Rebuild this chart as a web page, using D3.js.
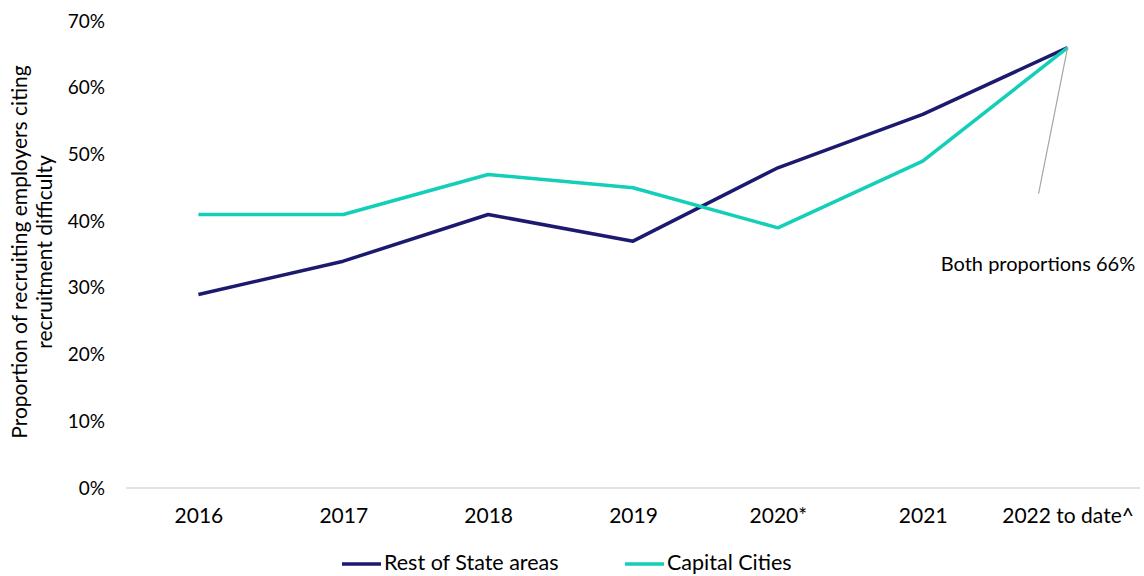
<!DOCTYPE html>
<html>
<head>
<meta charset="utf-8">
<script src="https://cdn.jsdelivr.net/npm/d3@7"></script>
<style>
  html, body { margin: 0; padding: 0; background: #fff; }
  svg { display: block; font-family: Lato, "Open Sans", sans-serif; }
</style>
</head>
<body>
<svg id="chart" width="1144" height="576"></svg>
<script>
// Survey years
const categories = ["2016", "2017", "2018", "2019", "2020*", "2021", "2022 to date^"];
// Share of recruiting employers citing recruitment difficulty (%)
const restOfState = [29, 34, 41, 37, 48, 56, 66];
const capitalCities = [41, 41, 47, 45, 39, 49, 66];
const yTicks = [0, 10, 20, 30, 40, 50, 60, 70];
const seriesNames = ["Rest of State areas", "Capital Cities"];
const annotationText = "Both proportions 66%";

const colors = ["#1c1a6f", "#14cfb8"];
const svg = d3.select("#chart");
const margin = { left: 126, right: 4, top: 21, bottom: 88 };
const W = 1144, H = 576;

const x = d3.scalePoint().domain(categories).range([margin.left, W - margin.right]).padding(0.5);
const y = d3.scaleLinear().domain([0, 70]).range([H - margin.bottom, margin.top]);

// Y tick labels
const yAxis = svg.append("g")
  .attr("transform", `translate(${margin.left},0)`)
  .call(d3.axisLeft(y).tickValues(yTicks).tickFormat(d => d + "%").tickSize(0).tickPadding(21));
yAxis.select(".domain").remove();
yAxis.selectAll("text").attr("font-size", 19).attr("fill", "#000").attr("font-family", "Lato, sans-serif");

// X axis baseline and labels
const xAxis = svg.append("g")
  .attr("transform", `translate(0,${y(0)})`)
  .call(d3.axisBottom(x).tickSize(0).tickPadding(20));
xAxis.select(".domain").attr("stroke", "#d9d9d9").attr("stroke-width", 1.5)
  .attr("d", `M${margin.left},0H${W - margin.right}`);
xAxis.selectAll("text").attr("font-size", 21).attr("fill", "#000").attr("font-family", "Lato, sans-serif");

// Y axis title
svg.append("text")
  .attr("transform", `translate(27,252) rotate(-90)`)
  .attr("text-anchor", "middle")
  .attr("font-size", 21)
  .attr("fill", "#000")
  .selectAll("tspan")
  .data(["Proportion of recruiting employers citing", "recruitment difficulty"])
  .join("tspan")
  .attr("x", 0)
  .attr("dy", (d, i) => i === 0 ? 0 : 25)
  .text(d => d);

// Series lines
const line = d3.line().x((d, i) => x(categories[i])).y(d => y(d));
[restOfState, capitalCities].forEach((vals, i) => {
  svg.append("path")
    .datum(vals)
    .attr("fill", "none")
    .attr("stroke", colors[i])
    .attr("stroke-width", 3.5)
    .attr("stroke-linejoin", "round")
    .attr("d", line);
});

// Callout for the shared final value
const last = categories[categories.length - 1];
svg.append("line")
  .attr("x1", x(last)).attr("y1", y(66))
  .attr("x2", x(last) - 29).attr("y2", y(66) + 146)
  .attr("stroke", "#a6a6a6").attr("stroke-width", 1.2);
svg.append("text")
  .attr("x", 1038).attr("y", 271)
  .attr("text-anchor", "middle")
  .attr("font-size", 20)
  .attr("fill", "#000")
  .text(annotationText);

// Legend
const legendItems = [{ x: 342, name: seriesNames[0], c: colors[0] }, { x: 625, name: seriesNames[1], c: colors[1] }];
const lg = svg.append("g");
legendItems.forEach(d => {
  lg.append("line").attr("x1", d.x).attr("x2", d.x + 39).attr("y1", 564).attr("y2", 564)
    .attr("stroke", d.c).attr("stroke-width", 3.5);
  lg.append("text").attr("x", d.x + 42).attr("y", 570).attr("font-size", 21.5).attr("fill", "#000").text(d.name);
});
</script>
</body>
</html>
